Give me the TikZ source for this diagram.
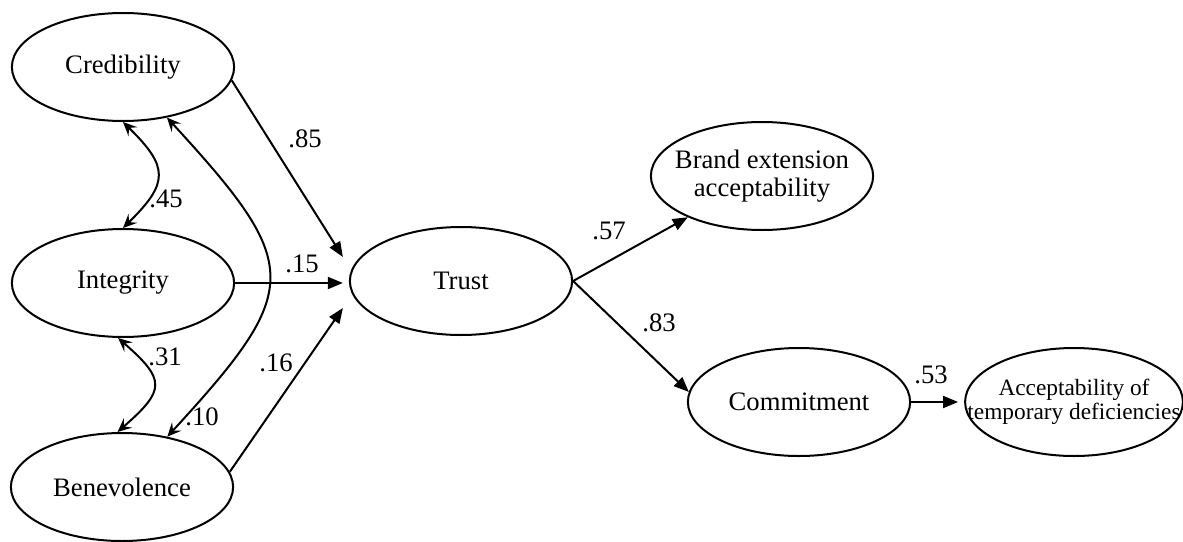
\documentclass[tikz,border=0pt]{standalone}
\usepackage{fontspec}
\setmainfont{Liberation Serif}
\usetikzlibrary{shapes.geometric}
\usetikzlibrary{arrows.meta}
\usetikzlibrary{positioning}
\tikzset{
    latent/.style={draw=black, ellipse, line width=0.9pt, minimum width=100pt, minimum height=48.6pt,
        inner xsep=-15pt, inner ysep=0pt, align=center, font=\fontsize{12}{12.5}\selectfont},
    effect/.style={draw=black, line width=0.9pt, -{Triangle[length=6.8pt,width=5.4pt]}},
    corr/.style={draw=black, line width=0.9pt,
        {Stealth[length=6.2pt,width=5.6pt,inset=2.4pt]}-{Stealth[length=6.2pt,width=5.6pt,inset=2.4pt]}},
    coef/.style={inner sep=0pt, font=\fontsize{12}{14}\selectfont},
}

\begin{document}
\begin{tikzpicture}[x=0.45pt, y=-0.45pt]
    \useasboundingbox (0,0) rectangle (1183,541);
    % antecedents
    \node[latent] (cred) at (123,67) {Credibility};
    \node[latent] (integ) at (123,283) {Integrity};
    \node[latent] (benev) at (122,487) {Benevolence};
    % mediator and outcomes
    \node[latent] (trust) at (461,281) {Trust};
    \node[latent] (brand) at (762,176) {Brand extension\\acceptability};
    \node[latent] (commit) at (799,402) {Commitment};
    \node[latent, minimum width=98pt, font=\fontsize{10.5}{9}\selectfont] (accept) at (1074,402) {Acceptability of\\temporary deficiencies};

    % correlations
    \draw[corr] (cred.south) .. controls +(46,45) and +(46,-45) .. (integ.north);
    \draw[corr] ([xshift=-2.2pt]integ.south) .. controls +(48,42) and +(48,-42) .. ([xshift=-2pt]benev.north);
    \draw[corr] (cred.-49) .. controls +(136,148) and +(136,-148) .. (benev.48);
    \node[coef] (r45) at (166,199) {.45};
    \node[coef] (r31) at (165,357) {.31};
    \node[coef] (r10) at (202,417) {.10};

    % paths
    \draw[effect] (cred.-7) -- ([shift={(-6,-24)}]trust.west);
    \draw[effect] (integ.east) -- ([shift={(-6,2)}]trust.west);
    \draw[effect] (benev.8) -- ([shift={(-6,27)}]trust.west);
    \draw[effect] (trust.east) -- (brand);
    \draw[effect] (trust.east) -- ([shift={(2,-10)}]commit.west);
    \draw[effect] (commit.east) -- ([shift={(-6,0)}]accept.west);
    \node[coef] (b85) at (305,139) {.85};
    \node[coef] (b15) at (302,264) {.15};
    \node[coef] (b16) at (276,363) {.16};
    \node[coef] (b57) at (609,231) {.57};
    \node[coef] (b83) at (659,323) {.83};
    \node[coef] (b53) at (931,375) {.53};
\end{tikzpicture}
\end{document}
